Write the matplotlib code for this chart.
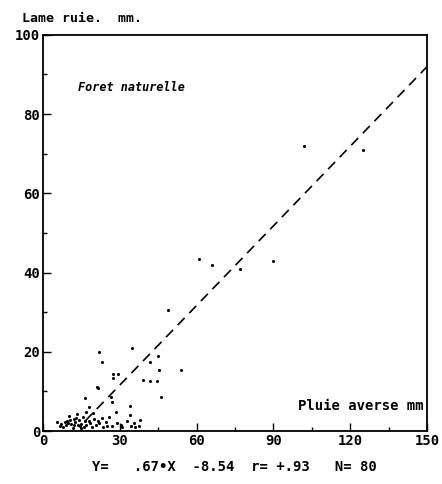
import matplotlib
matplotlib.use('Agg')
import matplotlib.pyplot as plt
import numpy as np

# pluie averse (mm) vs lame ruisselee (mm), foret naturelle
pluie = [102, 125, 61, 66, 77, 90, 49, 22, 23, 35,
         45, 42, 45.5, 54, 27.5, 27.5, 29.5, 39, 42, 44.5,
         21, 21.5, 46, 16.4, 26.5, 27, 18, 34, 28.5, 17,
         19.5, 34, 13.3, 10.3, 23, 33, 38, 29, 5.5, 7,
         10.5, 11, 12, 12.5, 13.7, 15, 16.6, 16, 14.8, 17,
         20.7, 22, 25, 27, 30.5, 34.4, 37.5, 23.4, 6.5, 8.5,
         9, 18, 19, 36, 14, 11.8, 20, 10, 13, 15.5,
         12, 8, 18.5, 21.5, 24.5, 26, 31, 35.5, 9.5, 14.5]
lame = [72, 71, 43.5, 42, 41, 43, 30.5, 20, 17.5, 21,
        19, 17.5, 15.3, 15.5, 14.5, 13.5, 14.5, 13, 12.7, 12.5,
        11.2, 10.8, 8.7, 8.3, 8.5, 7.3, 6, 6.3, 4.8, 4.8,
        4.5, 4.0, 4.3, 3.8, 3.4, 2.6, 2.8, 2.1, 2.3, 1.8,
        2.8, 1.8, 1.4, 2.3, 1.5, 1.8, 2.5, 1.0, 0.7, 1.5,
        1.5, 2.0, 1.3, 1.2, 1.5, 1.3, 1.2, 1.0, 1.2, 2.2,
        1.5, 2.6, 1.0, 1.0, 2.8, 0.8, 3.0, 2.0, 3.2, 3.5,
        3.0, 1.0, 2.0, 2.5, 2.3, 3.5, 1.0, 2.0, 2.6, 1.2]

pente = 0.67
ordonnee = -8.54
x_droite = [16.5, 150]

xticks = [0, 30, 60, 90, 120, 150]
yticks = [0, 20, 40, 60, 80, 100]

mono = 'DejaVu Sans Mono'

fig = plt.figure(figsize=(4.42, 4.84), dpi=100)
ax = fig.add_axes([0.097, 0.1095, 0.869, 0.8185])

ax.scatter(pluie, lame, s=5, color='black', linewidths=0, zorder=3)
y_droite = [pente * x + ordonnee for x in x_droite]
ax.plot(x_droite, y_droite, color='black', lw=1.2, dashes=(6, 4))

ax.set_xlim(0, 150)
ax.set_ylim(0, 100)
ax.set_xticks(xticks)
ax.set_yticks(yticks)
ax.set_xticks(range(15, 150, 30), minor=True)
ax.set_yticks(range(10, 100, 20), minor=True)
ax.tick_params(which='major', direction='in', length=6, width=1)
ax.tick_params(which='minor', direction='in', length=3, width=1)
ax.set_xticklabels([str(v) for v in xticks], family=mono, weight='bold', fontsize=10)
ax.set_yticklabels([str(v) for v in yticks], family=mono, weight='bold', fontsize=10)
ax.tick_params(axis='x', pad=2)
ax.tick_params(axis='y', pad=2)
for sp in ax.spines.values():
    sp.set_linewidth(1.3)

fig.text(0.05, 0.962, 'Lame ruie.  mm.', family=mono, weight='bold', fontsize=9.5,
         va='center', ha='left')
ax.text(13.7, 86.6, 'Foret naturelle', family=mono, style='italic', weight='bold',
        fontsize=8.5, va='center', ha='left')
ax.text(148.8, 6.3, 'Pluie averse mm', family=mono, weight='bold', fontsize=10,
        va='center', ha='right')
fig.text(0.53, 0.035, 'Y=   .67\u2022X  -8.54  r= +.93   N= 80', family=mono,
         weight='bold', fontsize=10, va='center', ha='center')

fig.savefig('out.png', dpi=100)
